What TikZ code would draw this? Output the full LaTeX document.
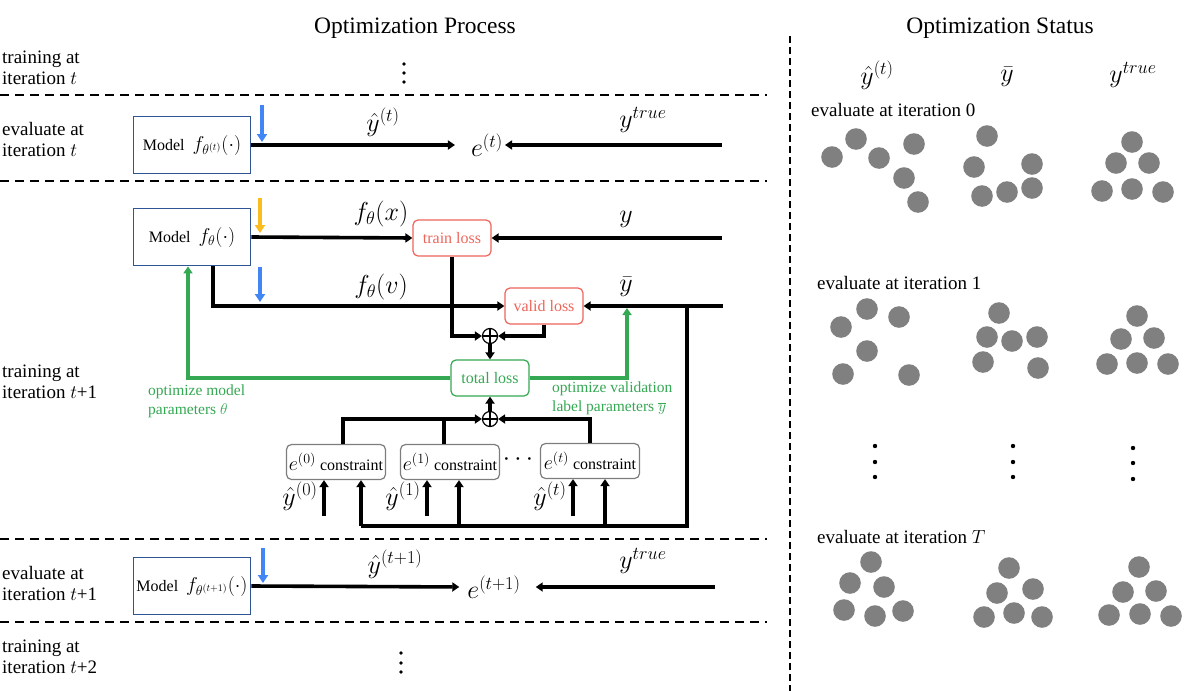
\RequirePackage{fix-cm}
\documentclass[tikz,border=0pt]{standalone}
\usepackage{fontspec}
\setmainfont{Liberation Serif}
\usetikzlibrary{arrows.meta}
\definecolor{mblue}{RGB}{47,85,151}
\definecolor{ablue}{RGB}{66,133,244}
\definecolor{ayel}{RGB}{250,188,30}
\definecolor{lred}{RGB}{238,100,90}
\definecolor{lgreen}{RGB}{52,168,83}
\definecolor{cgray}{RGB}{128,128,128}
\definecolor{bgray}{RGB}{125,125,125}
\newcommand{\bm}[1]{{\fontsize{20}{22}\selectfont$#1$}}
\begin{document}
\begin{tikzpicture}[x=1pt,y=-1pt,
  ttl/.style={font=\fontsize{23.5}{28}\selectfont, inner sep=0},
  lbl/.style={font=\fontsize{19}{21}\selectfont, align=left, anchor=west, inner sep=0},
  glbl/.style={font=\fontsize{15.5}{19}\selectfont, align=left, anchor=west, inner sep=0, text=lgreen},
  mth/.style={font=\fontsize{26}{30}\selectfont, inner sep=2pt},
  model/.style={draw=mblue, line width=1.8pt, minimum width=117pt, minimum height=57pt, inner sep=1pt, font=\fontsize{16}{19}\selectfont},
  loss/.style={draw=lred, text=lred, rounded corners=5pt, line width=1.2pt, minimum width=78pt, minimum height=36pt, inner sep=1pt, font=\fontsize{16}{19}\selectfont},
  gloss/.style={loss, draw=lgreen, text=lgreen},
  cons/.style={draw=bgray, rounded corners=5pt, line width=1.2pt, minimum width=99pt, minimum height=35pt, inner sep=1pt, font=\fontsize{16}{19}\selectfont},
  plus/.style={circle, draw, line width=1.2pt, minimum size=15pt, inner sep=0,
    path picture={\draw[line width=1.2pt] (path picture bounding box.north) -- (path picture bounding box.south)
      (path picture bounding box.west) -- (path picture bounding box.east);}},
  ln/.style={line width=3.6pt},
  arr/.style={ln, -{Triangle[length=7pt,width=9pt]}},
  barr/.style={line width=3.6pt, draw=ablue, -{Triangle[length=8pt,width=10pt]}},
  yarr/.style={barr, draw=ayel},
  garr/.style={line width=3.6pt, draw=lgreen, -{Triangle[length=7pt,width=9pt]}},
  sep/.style={line width=1.5pt, dash pattern=on 9pt off 6pt},
  vsep/.style={line width=1.3pt, dash pattern=on 7pt off 4pt},
]
\useasboundingbox (0,0) rectangle (1184,691);

% titles
\node[ttl] (t1) at (415,28) {Optimization Process};
\node[ttl] (t2) at (1000,28) {Optimization Status};

% separators
\draw[vsep] (790,36) -- (790,691);
\draw[sep] (0,95) -- (767,95);
\draw[sep] (0,181) -- (767,181);
\draw[sep] (0,539) -- (767,539);
\draw[sep] (0,622) -- (767,622);

% left labels
\node[lbl] (l1) at (2,68) {training at\\iteration $t$};
\node[lbl] (l2) at (2,139) {evaluate at\\iteration $t$};
\node[lbl] (l3) at (2,382) {training at\\iteration $t$+1};
\node[lbl] (l4) at (2,583) {evaluate at\\iteration $t$+1};
\node[lbl] (l5) at (2,657) {training at\\iteration $t$+2};

% vertical ellipses
\foreach \y in {64,73,82} \fill (404,\y) circle (1.8pt);
\foreach \y in {653,663,672} \fill (401,\y) circle (1.8pt);

% ---- evaluate at t
\node[model] (m1) at (192,145) {Model\ \ \bm{f_{\theta^{(t)}}(\cdot)}};
\node[mth] (e1) at (487,145) {$e^{(t)}$};
\coordinate (yt1) at (722,145);
\draw[arr, shorten >=14pt] (m1.east) -- (e1.west);
\draw[arr] (yt1) -- (e1.east);
\node[mth] (yh1) at (383,122) {$\hat{y}^{(t)}$};
\node[mth] (ytr1) at (643,120) {$y^{true}$};
\coordinate (ba1) at (262,105);
\coordinate (bb1) at (262,142);
\draw[barr] (ba1) -- (bb1);

% ---- training at t+1
\node[model] (m2) at (192,237) {Model\ \ \bm{f_\theta(\cdot)}};
\node[loss] (tl) at (452,238) {train loss};
\node[loss] (vl) at (544,306) {valid loss};
\node[gloss] (tot) at (490,378) {total loss};
\node[plus] (p1) at (490,336) {};
\node[plus] (p2) at (490,419) {};

\draw[arr] (m2.east) -- (tl.west);
\coordinate (yin) at (722,238);
\draw[arr] (yin) -- (tl.east);
\node[mth] (fx) at (381,214) {$f_\theta(x)$};
\node[mth] (ylab) at (626,219) {$y$};

\draw[arr] ([xshift=21pt]m2.south) |- (vl.west);
\coordinate (ybin) at (723,306);
\draw[arr] (ybin) -- (vl.east);
\node[mth] (fv) at (381,287) {$f_\theta(v)$};
\node[mth] (yblab) at (626,287) {$\bar{y}$};

\coordinate (ya2) at (260,198);
\coordinate (yb2) at (260,233);
\draw[yarr] (ya2) -- (yb2);
\coordinate (ba2) at (260,267);
\coordinate (bb2) at (260,302);
\draw[barr] (ba2) -- (bb2);

\draw[arr] (tl.south) |- (p1.west);
\draw[arr] (vl.south) |- (p1.east);
\draw[arr] (p1.south) -- (tot.north);
\draw[arr] (p2.north) -- (tot.south);

% green feedback
\draw[garr] (tot.west) -| ([xshift=-4pt]m2.south);
\coordinate (gt) at (627,308);
\draw[garr] (tot.east) -| (gt);
\node[glbl] (g1) at (148,401) {optimize model\\parameters $\theta$};
\node[glbl] (g2) at (552,398) {optimize validation\\label parameters $\overline{y}$};

% constraints
\node[cons] (c0) at (336,462) {\bm{e^{(0)}} constraint};
\node[cons] (c1) at (450,462) {\bm{e^{(1)}} constraint};
\node[cons] (ct) at (590,461) {\bm{e^{(t)}} constraint};
\node[mth] (cd) at (518,460) {$\cdots$};

\draw[arr] ([xshift=7pt]c0.north) |- (p2.west);
\draw[ln] ([xshift=-6pt]c1.north) -- ([xshift=-6pt]c1.north |- p2.west);
\draw[arr] (ct.north) |- (p2.east);

% loop from y-bar
\coordinate (yb) at (687,306);
\coordinate (loopR) at (687,526);
\coordinate (loopL) at (361,526);
\draw[ln] (yb) -- (loopR) -- (loopL);
\draw[arr] (loopL) -- (loopL |- c0.south);
\coordinate (lb1) at (459,526);
\draw[arr] (lb1) -- (lb1 |- c1.south);
\coordinate (lbt) at (605,526);
\draw[arr] (lbt) -- (lbt |- ct.south);

% y-hat inputs
\coordinate (h0) at (324,516);
\draw[arr] (h0) -- (h0 |- c0.south);
\coordinate (h1) at (427,516);
\draw[arr] (h1) -- (h1 |- c1.south);
\coordinate (ht) at (573,516);
\draw[arr] (ht) -- (ht |- ct.south);
\node[mth] (hl0) at (300,496) {$\hat{y}^{(0)}$};
\node[mth] (hl1) at (403,496) {$\hat{y}^{(1)}$};
\node[mth] (hlt) at (550,496) {$\hat{y}^{(t)}$};

% ---- evaluate at t+1
\node[model] (m3) at (192,586) {Model\ \ \bm{f_{\theta^{(t+1)}}(\cdot)}};
\node[mth] (e3) at (494,587) {$e^{(t+1)}$};
\coordinate (yt3) at (715,587);
\draw[arr, shorten >=6pt] (m3.east) -- (e3.west);
\draw[arr, shorten >=13pt] (yt3) -- (e3.east);
\node[mth] (yh3) at (395,564) {$\hat{y}^{(t+1)}$};
\node[mth] (ytr3) at (643,561) {$y^{true}$};
\coordinate (ba3) at (263,548);
\coordinate (bb3) at (263,583);
\draw[barr] (ba3) -- (bb3);

% ---- right side
\node[mth] (rh1) at (877,75) {$\hat{y}^{(t)}$};
\node[mth] (rh2) at (1007,77) {$\bar{y}$};
\node[mth] (rh3) at (1133,75) {$y^{true}$};
\node[lbl] (r0) at (811,110) {evaluate at iteration 0};
\node[lbl] (r1) at (817,283) {evaluate at iteration 1};
\node[lbl] (rT) at (817,537) {evaluate at iteration $T$};

\foreach \x/\y in {832/157,856/139,879/158,914/144,904/178,918/202,
  987/136,974/167,1032/164,982/196,1007/192,1032/188,
  1132/142,1116/163,1149/163,1102/191,1132/189,1163/192,
  841/327,867/309,899/317,867/351,843/374,909/375,
  999/313,987/337,1012/341,1037/337,983/362,1038/368,
  1137/316,1121/339,1154/338,1107/364,1137/363,1168/364,
  871/562,850/583,884/587,844/610,875/616,903/611,
  1009/568,997/593,1033/589,984/617,1014/613,1042/617,
  1139/567,1123/592,1156/591,1109/615,1140/614,1171/616}
  \fill[cgray] (\x,\y) circle (10.8pt);

\foreach \x in {875,1013}
  \foreach \y in {446,462,477}
    \fill (\x,\y) circle (2.2pt);
\foreach \y in {448,463,479}
  \fill (1133,\y) circle (2.2pt);
\end{tikzpicture}
\end{document}
